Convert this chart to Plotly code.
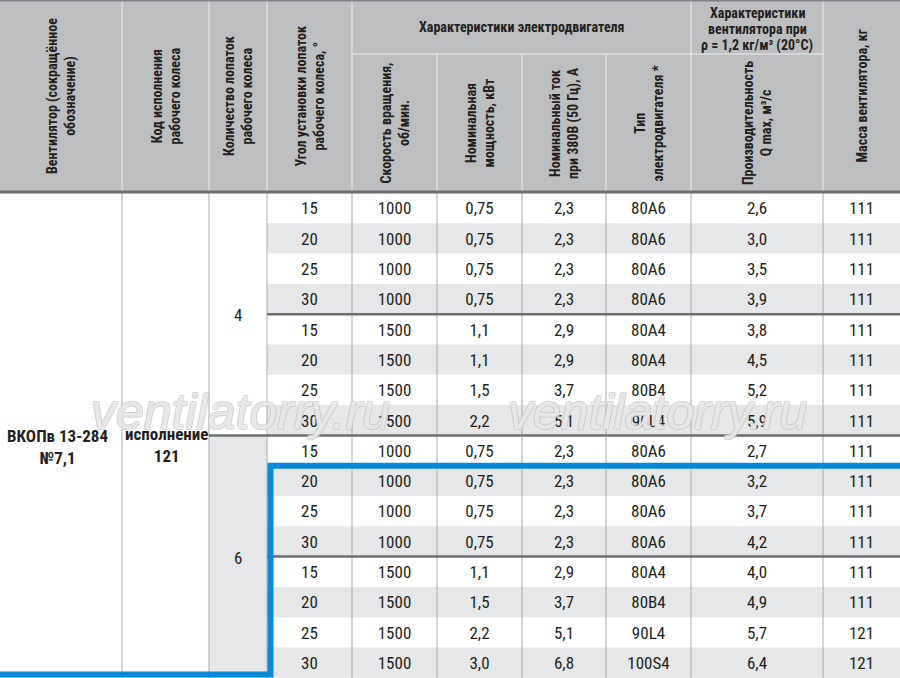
import plotly.graph_objects as go

# --- данные таблицы ---
angles = [15, 20, 25, 30, 15, 20, 25, 30, 15, 20, 25, 30, 15, 20, 25, 30]
speed = [1000, 1000, 1000, 1000, 1500, 1500, 1500, 1500,
         1000, 1000, 1000, 1000, 1500, 1500, 1500, 1500]
power = [0.75, 0.75, 0.75, 0.75, 1.1, 1.1, 1.5, 2.2,
         0.75, 0.75, 0.75, 0.75, 1.1, 1.5, 2.2, 3.0]
current = [2.3, 2.3, 2.3, 2.3, 2.9, 2.9, 3.7, 5.1,
           2.3, 2.3, 2.3, 2.3, 2.9, 3.7, 5.1, 6.8]
motor = ["80A6", "80A6", "80A6", "80A6", "80A4", "80A4", "80B4", "90L4",
         "80A6", "80A6", "80A6", "80A6", "80A4", "80B4", "90L4", "100S4"]
q_max = [2.6, 3.0, 3.5, 3.9, 3.8, 4.5, 5.2, 5.9,
         2.7, 3.2, 3.7, 4.2, 4.0, 4.9, 5.7, 6.4]
mass = [111, 111, 111, 111, 111, 111, 111, 111,
        111, 111, 111, 111, 111, 111, 121, 121]

fan_name = "ВКОПв 13-284<br>№7,1"
wheel_code = "исполнение<br>121"
blades = ["4", "6"]

headers_rot = [
    "Вентилятор (сокращённое<br>обозначение)",
    "Код исполнения<br>рабочего колеса",
    "Количество лопаток<br>рабочего колеса",
    "Угол установки лопаток<br>рабочего колеса, °",
    "Скорость вращения,<br>об/мин.",
    "Номинальная<br>мощность, кВт",
    "Номинальный ток<br>при 380В (50 Гц), А",
    "Тип<br>электродвигателя *",
    "Производительность<br>Q max, м³/с",
    "Масса вентилятора, кг",
]
group_motor = "Характеристики электродвигателя"
group_fan = ["Характеристики", "вентилятора при", "ρ = 1,2 кг/м³ (20°C)"]

# --- геометрия ---
W, H = 900, 678
edges = [0, 122, 209, 267, 352, 437, 522, 606, 691, 823, 900]
HEAD = 192
SUB = 54
TOP = 193
ROW_H = 30.3
n_rows = len(angles)

HEAD_BG = "#bcbec0"
ALT_BG = "#e6e7e8"
DARK = "#6d6e71"
GRID = "#a7a9ac"
BLUE = "#0a89d9"
TXT = "#231f20"
COND = "Roboto Condensed, Open Sans Condensed, DejaVu Sans Condensed, sans-serif"


def row_y(i):
    return TOP + i * ROW_H


def mid(c):
    return (edges[c] + edges[c + 1]) / 2


def fmt(v):
    return str(v).replace(".", ",")


shapes = []
# шапка
shapes.append(dict(type="rect", x0=0, x1=W, y0=0, y1=HEAD, fillcolor=HEAD_BG,
                   line_width=0, layer="below"))
# чередующиеся строки
for i in range(n_rows):
    if i % 2 == 1:
        shapes.append(dict(type="rect", x0=edges[3], x1=W, y0=row_y(i), y1=row_y(i + 1),
                           fillcolor=ALT_BG, line_width=0, layer="below"))
shapes.append(dict(type="rect", x0=edges[2], x1=edges[3], y0=row_y(8), y1=H,
                   fillcolor=ALT_BG, line_width=0, layer="below"))

# вертикальные линии
for c in range(1, len(edges) - 1):
    shapes.append(dict(type="line", x0=edges[c], x1=edges[c], y0=TOP, y1=H,
                       line=dict(color=GRID, width=1)))
    y_start = SUB if c in (5, 6, 7) else 0
    shapes.append(dict(type="line", x0=edges[c], x1=edges[c], y0=y_start, y1=HEAD,
                       line=dict(color="#eeeeee", width=1)))
shapes.append(dict(type="line", x0=edges[4], x1=edges[9], y0=SUB, y1=SUB,
                   line=dict(color="#eeeeee", width=1)))

# границы
shapes.append(dict(type="line", x0=0, x1=W, y0=0.8, y1=0.8, line=dict(color="#808285", width=1.6)))
shapes.append(dict(type="line", x0=0, x1=W, y0=HEAD, y1=HEAD, line=dict(color=DARK, width=3)))
for r, c in [(4, 3), (8, 2), (12, 3)]:
    shapes.append(dict(type="line", x0=edges[c], x1=W, y0=row_y(r), y1=row_y(r),
                       line=dict(color=DARK, width=2.5)))

# синяя рамка
yb = row_y(9)
shapes.append(dict(type="path",
                   path=f"M {W},{yb} L {edges[3] + 3.5},{yb} L {edges[3] + 3.5},{H - 3.5} L 0,{H - 3.5}",
                   line=dict(color=BLUE, width=6)))

fig = go.Figure()

# значения в ячейках
columns = [angles, speed, [fmt(v) for v in power], [fmt(v) for v in current],
           motor, [fmt(v) for v in q_max], mass]
centers_y = [row_y(i) + ROW_H / 2 + 2 for i in range(n_rows)]
for k, vals in enumerate(columns):
    c = k + 3
    fig.add_trace(go.Scatter(
        x=[mid(c)] * n_rows, y=centers_y, text=[str(v) for v in vals],
        mode="text", textfont=dict(family=COND, size=17, color=TXT),
        hoverinfo="skip", showlegend=False))

ann = []
# повёрнутые заголовки
for c, t in enumerate(headers_rot):
    if 4 <= c <= 8:
        yc = (SUB + HEAD) / 2
    else:
        yc = HEAD / 2
    ann.append(dict(x=mid(c), y=yc, text=t, textangle=-90, showarrow=False,
                    font=dict(family=COND, size=14, color=TXT, weight="bold")))
ann.append(dict(x=(edges[4] + edges[8]) / 2, y=27, text=group_motor, showarrow=False,
                font=dict(family=COND, size=14, color=TXT, weight="bold")))
for j, t in enumerate(group_fan):
    ann.append(dict(x=mid(8), y=13 + 16 * j, text=t, showarrow=False,
                    font=dict(family=COND, size=14, color=TXT, weight="bold")))

# объединённые ячейки
ann.append(dict(x=mid(0) - 4, y=447, text=fan_name, showarrow=False,
                font=dict(family=COND, size=17, color=TXT, weight="bold")))
ann.append(dict(x=mid(1) + 1, y=445, text=wheel_code, showarrow=False,
                font=dict(family=COND, size=17, color=TXT, weight="bold")))
for g, b in enumerate(blades):
    ann.append(dict(x=mid(2), y=(row_y(8 * g) + row_y(8 * g + 8)) / 2 + 1, text=b, showarrow=False,
                    font=dict(family=COND, size=17, color=TXT)))

# водяной знак
outline = "1px 1px 0 #c6c6c6, -1px -1px 0 #c6c6c6, 1px -1px 0 #c6c6c6, -1px 1px 0 #c6c6c6"
for xw in [240, 657]:
    ann.append(dict(x=xw, y=412, text="ventilatorry.ru", showarrow=False,
                    font=dict(family="Liberation Sans, Arial, sans-serif", size=50,
                              color="rgba(255,255,255,0.55)", style="italic",
                              shadow=outline)))

fig.update_layout(
    width=W, height=H, margin=dict(l=0, r=0, t=0, b=0),
    paper_bgcolor="white", plot_bgcolor="white",
    shapes=shapes, annotations=ann, showlegend=False,
    xaxis=dict(range=[0, W], visible=False, fixedrange=True),
    yaxis=dict(range=[H, 0], visible=False, fixedrange=True),
)

fig.write_html("out.html", config={"displayModeBar": False},
               post_script="document.body.style.margin='0';")
